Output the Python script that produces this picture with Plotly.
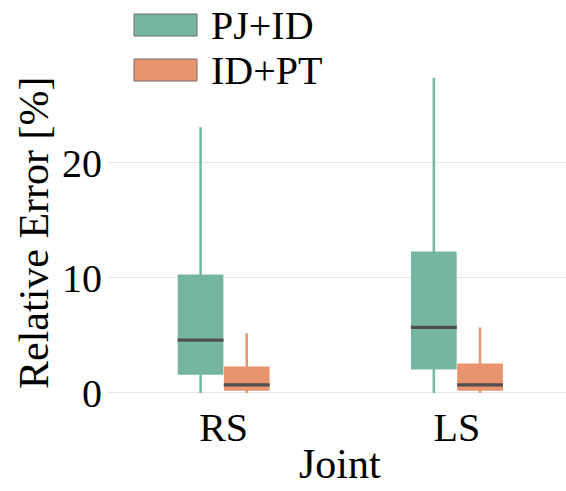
import plotly.graph_objects as go

# Box statistics per joint (relative error, %)
joints = ["RS", "LS"]
methods = ["PJ+ID", "ID+PT"]
colors = ["#74b6a0", "#e8946f"]

lower = {"PJ+ID": [0.0, 0.0], "ID+PT": [0.0, 0.0]}
q1 = {"PJ+ID": [1.7, 2.15], "ID+PT": [0.3, 0.3]}
median = {"PJ+ID": [4.6, 5.7], "ID+PT": [0.7, 0.7]}
q3 = {"PJ+ID": [10.2, 12.2], "ID+PT": [2.2, 2.45]}
upper = {"PJ+ID": [23.1, 27.4], "ID+PT": [5.2, 5.7]}

y_ticks = [0, 10, 20]

FONT = "Liberation Serif, Times New Roman, serif"
box_w = 0.185
offsets = [-0.099, 0.099]

W, H = 566, 491
L, T, B = 107, 62, 91
PW, PH = W - L, H - T - B

fig = go.Figure()
for m, col, off in zip(methods, colors, offsets):
    xs = [i + off for i in range(len(joints))]
    fig.add_trace(go.Box(
        x=xs, q1=q1[m], median=median[m], q3=q3[m],
        lowerfence=lower[m], upperfence=upper[m],
        width=box_w, whiskerwidth=0,
        fillcolor=col, line=dict(color=col, width=2.5),
        name=m, showlegend=False, hoverinfo="skip",
    ))
    # dark median bar on top of each box
    for x, med in zip(xs, median[m]):
        half = box_w / 2 + 0.006
        fig.add_trace(go.Scatter(
            x=[x - half, x + half], y=[med, med], mode="lines",
            line=dict(color="#4f4f4f", width=3.2),
            showlegend=False, hoverinfo="skip",
        ))

# legend drawn as large swatches with labels (pixel rows converted to paper units)
legend_rows = [(25, methods[0], colors[0]), (70, methods[1], colors[1])]
for ypix, label, col in legend_rows:
    yc = (H - B - ypix) / PH
    fig.add_shape(type="rect", xref="paper", yref="paper",
                  x0=(134 - L) / PW, x1=(197 - L) / PW,
                  y0=yc - 11 / PH, y1=yc + 11 / PH,
                  fillcolor=col, line=dict(color="#6e6e6e", width=1))
    fig.add_annotation(xref="paper", yref="paper", x=(209 - L) / PW, y=yc,
                       text=label, showarrow=False, xanchor="left", yanchor="middle",
                       font=dict(family=FONT, size=40, color="black"))

title_font = dict(family=FONT, size=42, color="black")
# axis titles
fig.add_annotation(xref="paper", yref="paper", x=(340 - L) / PW, y=(H - B - 464) / PH,
                   text="Joint", showarrow=False, xanchor="center", yanchor="middle",
                   font=title_font)
fig.add_annotation(xref="paper", yref="paper", x=(34 - L) / PW, y=(H - B - 233) / PH,
                   text="Relative Error [%]", textangle=-90, showarrow=False,
                   xanchor="center", yanchor="middle", font=title_font)

fig.update_layout(
    width=W, height=H,
    margin=dict(l=L, r=0, t=T, b=B),
    paper_bgcolor="white", plot_bgcolor="white",
    font=dict(family=FONT, size=40, color="black"),
    xaxis=dict(
        range=[-0.5, -0.5 + PW / 233.3],
        tickvals=list(range(len(joints))), ticktext=joints,
        tickfont=dict(family=FONT, size=40, color="black"),
        showgrid=False, zeroline=False, showline=False, ticks="",
    ),
    yaxis=dict(
        range=[-0.61, 28.77], tickvals=y_ticks,
        tickfont=dict(family=FONT, size=40, color="black"),
        showgrid=True, gridcolor="#e6e6e6", gridwidth=1.2,
        zeroline=False, showline=False, ticks="", ticklabelstandoff=4,
    ),
)

fig.write_html("out.html")
